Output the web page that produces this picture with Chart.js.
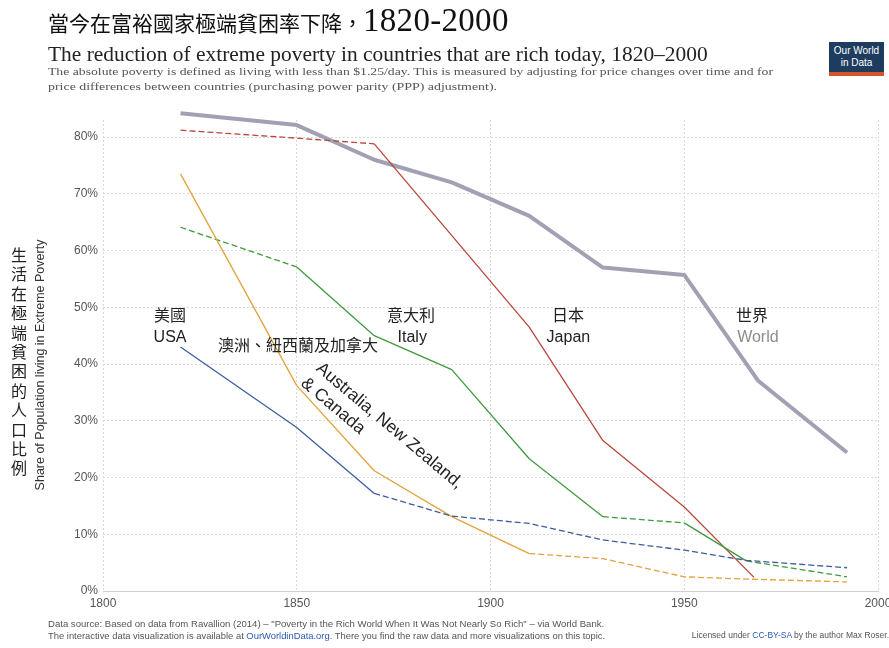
<!DOCTYPE html>
<html>
<head>
<meta charset="utf-8">
<script src="https://cdn.jsdelivr.net/npm/chart.js@4.4.1/dist/chart.umd.min.js"></script>
<style>
html,body{margin:0;padding:0;background:#fff;}
body{width:889px;height:648px;position:relative;overflow:hidden;font-family:"Liberation Sans",Arial,sans-serif;}
#c{position:absolute;left:0;top:0;}
.t{position:absolute;white-space:nowrap;line-height:1.15;z-index:2;transform-origin:left top;}
#zh{left:48px;top:2px;font-family:"Noto Sans CJK TC",sans-serif;font-size:21px;color:#111;}
#zh .num{font-family:"Liberation Serif",serif;font-size:33px;letter-spacing:0.3px;}
#en{left:48px;top:42px;font-family:"Liberation Serif",serif;font-size:20px;color:#222;}
.sub{left:48px;font-family:"Liberation Serif",serif;font-size:11px;color:#555;}
#sub1{top:65px;}
#sub2{top:80px;}
.foot{font-size:8.5px;color:#555;}
.foot a{color:#2a5ab0;text-decoration:none;}
#f1{left:48px;top:618px;}
#f2{left:48px;top:631px;}
#f3{right:0;top:631px;}
#logo{position:absolute;left:829px;top:42px;width:55px;height:34px;background:#1d3c5e;color:#fff;
  font-size:10px;line-height:12px;text-align:center;z-index:2;box-sizing:border-box;padding-top:3px;border-bottom:4px solid #d4552c;}
#yzh{position:absolute;left:10px;top:245px;width:18px;font-family:"Noto Sans CJK TC",sans-serif;font-size:16px;line-height:19.4px;color:#222;text-align:center;z-index:2;}
#yen{position:absolute;left:40px;top:365px;transform:translate(-50%,-50%) rotate(-90deg);white-space:nowrap;font-size:12.5px;color:#333;z-index:2;}
</style>
</head>
<body>
<div class="t" id="zh">當今在富裕國家極端貧困率下降，<span class="num">1820-2000</span></div>
<div class="t" id="en">The reduction of extreme poverty in countries that are rich today, 1820–2000</div>
<div class="t sub" id="sub1">The absolute poverty is defined as living with less than $1.25/day. This is measured by adjusting for price changes over time and for</div>
<div class="t sub" id="sub2">price differences between countries (purchasing power parity (PPP) adjustment).</div>
<div id="logo">Our World<br>in Data</div>
<div id="yzh">生<br>活<br>在<br>極<br>端<br>貧<br>困<br>的<br>人<br>口<br>比<br>例</div>
<div id="yen">Share of Population living in Extreme Poverty</div>
<canvas id="c" width="889" height="648"></canvas>
<div class="t foot" id="f1">Data source: Based on data from Ravallion (2014) – "Poverty in the Rich World When It Was Not Nearly So Rich" – via World Bank.</div>
<div class="t foot" id="f2">The interactive data visualization is available at <a>OurWorldinData.org</a>. There you find the raw data and more visualizations on this topic.</div>
<div class="t foot" id="f3">Licensed under <a>CC-BY-SA</a> by the author Max Roser.</div>
<script>
/* ==========================================
   DATA (share living in extreme poverty, %)
========================================== */

const worldYears = [1820, 1850, 1870, 1890, 1910, 1929, 1950, 1969, 1992];
const worldShare = [84.2, 82.1, 76.0, 72.0, 66.1, 57.0, 55.7, 37.1, 24.4];

const japanYears = [1820, 1850, 1870, 1910, 1929, 1950, 1968];
const japanShare = [81.2, 79.8, 78.8, 46.5, 26.5, 14.8, 2.4];

const italyYears = [1820, 1850, 1870, 1890, 1910, 1929, 1950, 1966, 1992];
const italyShare = [64.1, 57.1, 45.0, 39.0, 23.3, 13.1, 12.0, 5.3, 2.5];

const usaYears = [1820, 1850, 1870, 1890, 1910, 1929, 1950, 1966, 1992];
const usaShare = [43.0, 28.8, 17.2, 13.2, 11.9, 9.0, 7.2, 5.4, 4.1];

const ausYears = [1820, 1850, 1870, 1890, 1910, 1929, 1950, 1966, 1992];
const ausShare = [73.5, 36.2, 21.2, 13.1, 6.6, 5.7, 2.5, 2.1, 1.6];

const xTicks = [1800, 1850, 1900, 1950, 2000];
const yTicks = [0, 10, 20, 30, 40, 50, 60, 70, 80];

/* ==========================================
   HELPERS
========================================== */

function pts(years, vals){
  return years.map((y, i) => ({x: y, y: vals[i]}));
}

// segments (by start index) drawn dashed in the original
function dashAt(list){
  return ctx => list.includes(ctx.p0DataIndex) ? [6, 3] : undefined;
}

function line(label, years, vals, color, width, dashed){
  return {
    label: label,
    data: pts(years, vals),
    borderColor: color,
    borderWidth: width,
    pointRadius: 0,
    fill: false,
    tension: 0,
    clip: false,
    borderJoinStyle: "round",
    segment: {borderDash: dashAt(dashed)}
  };
}

/* ==========================================
   IN-CHART LABELS
========================================== */

const cjk = '16px "Noto Sans CJK TC", sans-serif';
const lat = '16px "Liberation Sans", Arial, sans-serif';

const notes = [
  {text: "美國", x: 1817.3, y: 48.6, font: cjk, color: "#222"},
  {text: "USA", x: 1817.3, y: 44.7, font: lat, color: "#222"},
  {text: "澳洲、紐西蘭及加拿大", x: 1829.7, y: 43.3, font: cjk, color: "#222", align: "left"},
  {text: "意大利", x: 1879.5, y: 48.6, font: cjk, color: "#222"},
  {text: "Italy", x: 1879.8, y: 44.7, font: lat, color: "#222"},
  {text: "日本", x: 1920.0, y: 48.6, font: cjk, color: "#222"},
  {text: "Japan", x: 1920.1, y: 44.7, font: lat, color: "#222"},
  {text: "世界", x: 1967.5, y: 48.6, font: cjk, color: "#222"},
  {text: "World", x: 1969.0, y: 44.7, font: lat, color: "#8c8c8c"}
];

const slanted = {
  lines: ["Australia, New Zealand,", "& Canada"],
  x: 1857.0, y: 40.8, angle: 40, font: '17.5px "Liberation Sans", Arial, sans-serif'
};

const labelPlugin = {
  id: "labels",
  afterDatasetsDraw(chart){
    const c = chart.ctx;
    const sx = chart.scales.x, sy = chart.scales.y;
    c.save();
    c.textBaseline = "middle";
    notes.forEach(n => {
      c.font = n.font;
      c.fillStyle = n.color;
      c.textAlign = n.align || "center";
      c.fillText(n.text, sx.getPixelForValue(n.x), sy.getPixelForValue(n.y));
    });
    c.translate(sx.getPixelForValue(slanted.x), sy.getPixelForValue(slanted.y));
    c.rotate(slanted.angle * Math.PI / 180);
    c.font = slanted.font;
    c.fillStyle = "#222";
    c.textAlign = "left";
    c.textBaseline = "top";
    slanted.lines.forEach((t, i) => c.fillText(t, -i * 2, i * 21));
    c.restore();
  }
};

/* ==========================================
   CHART
========================================== */

const gridColor = "#d9d9d9";
const tickFont = {family: '"Liberation Sans", Arial, sans-serif', size: 12};

new Chart(document.getElementById("c"), {
  type: "line",
  data: {
    datasets: [
      line("USA", usaYears, usaShare, "#3d5d9e", 1.3, [2, 3, 4, 5, 6, 7]),
      line("Australia, New Zealand & Canada", ausYears, ausShare, "#e2a23c", 1.3, [4, 5, 6, 7]),
      line("Italy", italyYears, italyShare, "#3f9a3f", 1.3, [0, 5, 7]),
      line("Japan", japanYears, japanShare, "#b9483b", 1.3, [0, 1]),
      line("World", worldYears, worldShare, "#a1a1b3", 4, [])
    ]
  },
  options: {
    responsive: false,
    animation: false,
    events: [],
    layout: {padding: {top: 120, right: 11, left: 0, bottom: 0}},
    plugins: {legend: {display: false}, tooltip: {enabled: false}},
    scales: {
      x: {
        type: "linear",
        min: 1800,
        max: 2000,
        afterBuildTicks: s => { s.ticks = xTicks.map(v => ({value: v})); },
        afterFit: s => { s.height = 57; s.paddingLeft = 0; s.paddingRight = 0; },
        ticks: {color: "#555", font: tickFont, padding: 5, maxRotation: 0, callback: v => String(v)},
        grid: {color: gridColor, drawTicks: false},
        border: {display: true, color: "#cfcfcf", width: 1, dash: [2, 2]}
      },
      y: {
        type: "linear",
        min: 0,
        max: 83,
        afterBuildTicks: s => { s.ticks = yTicks.map(v => ({value: v})); },
        afterFit: s => { s.width = 103; },
        ticks: {color: "#555", font: tickFont, padding: 5, callback: v => v + "%"},
        grid: {color: gridColor, drawTicks: false},
        border: {display: false, dash: [2, 2]}
      }
    }
  },
  plugins: [labelPlugin]
});

/* ==========================================
   FIT HEADER / FOOTER TEXT WIDTHS
========================================== */

function fit(id, w){
  const el = document.getElementById(id);
  const fs = parseFloat(getComputedStyle(el).fontSize);
  el.style.fontSize = (fs * w / el.getBoundingClientRect().width) + "px";
}

function stretch(id, w){
  const el = document.getElementById(id);
  el.style.transform = "scaleX(" + (w / el.getBoundingClientRect().width) + ")";
}

fit("en", 660);
stretch("sub1", 725);
stretch("sub2", 449);
fit("f1", 557);
fit("f2", 558);
</script>
</body>
</html>
